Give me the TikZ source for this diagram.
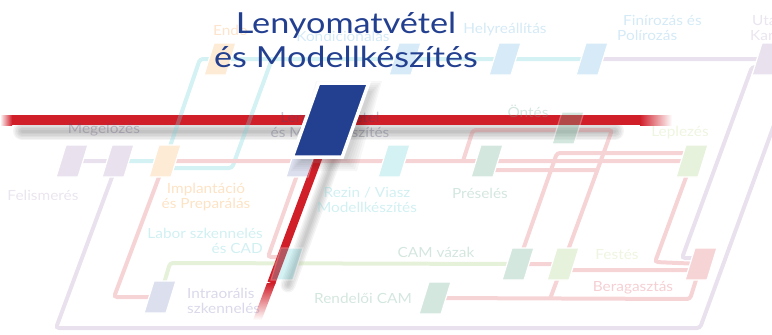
\documentclass[tikz,border=0pt]{standalone}
\usepackage{fontspec}
\setmainfont{Lato}
\newfontfamily\titlefont[FakeStretch=1.18]{Lato}
\newfontfamily\mapfont[FakeStretch=1.1]{Lato}
\usetikzlibrary{shadows}

\definecolor{lenyblue}{HTML}{233F8F}
\definecolor{redline}{HTML}{D11F2A}
% map colours (shown through the faded group)
\definecolor{mapPurple}{HTML}{B69EC6}
\definecolor{mapCyan}{HTML}{70D0D7}
\definecolor{mapSky}{HTML}{76BCE4}
\definecolor{mapOrange}{HTML}{F8BC76}
\definecolor{mapPink}{HTML}{E17076}
\definecolor{mapGreen}{HTML}{ACD084}
\definecolor{mapSage}{HTML}{70AF94}
\definecolor{mapLime}{HTML}{ACD48A}
\definecolor{mapLav}{HTML}{8A94C6}
\definecolor{txtGray}{HTML}{58486C}
\definecolor{txtLeny}{HTML}{44486C}
\definecolor{txtPurple}{HTML}{BCA8CA}
\definecolor{txtOrange}{HTML}{F8A23E}
\definecolor{txtCyan}{HTML}{69CDD4}
\definecolor{txtSage}{HTML}{70AF94}
\definecolor{txtLime}{HTML}{C6DE98}
\definecolor{txtLav}{HTML}{8080B9}
\definecolor{txtPink}{HTML}{DE5F6C}
\definecolor{txtSky}{HTML}{70B9E1}
\definecolor{txtEndo}{HTML}{F8A555}

\tikzset{
  halt/.style={draw=white, line width=1.2pt, fill=#1, minimum width=22pt,
    minimum height=32pt, inner sep=0pt, xslant=0.31},
  mline/.style={draw=#1, line width=4pt, rounded corners=3pt},
  lbl/.style={font=\mapfont\fontsize{14}{14.5}\selectfont, text=#1, inner sep=0pt, align=center},
}

\begin{document}
\begin{tikzpicture}[x=1pt,y=-1pt]
  \useasboundingbox (0,0) rectangle (772,335);

  % shadows under the red line
  \foreach \w in {3,6,...,18}
    \draw[black, opacity=0.045, line width=\w pt, line cap=round] (22,131) -- (615,131);
  \foreach \w in {3,6,...,15}
    \draw[black, opacity=0.045, line width=\w pt, line cap=round] (334,158) -- (288,285);

  % red line
  \coordinate (r-w) at (0,120);
  \coordinate (r-e) at (672,120);
  \coordinate (r-n) at (325,140);
  \coordinate (r-f) at (271.3,283);
  \draw[redline, line width=10pt] ([xshift=12pt]r-w) -- ([xshift=-32pt]r-e);
  \shade[left color=white, right color=redline] (0,115) rectangle (12,125);
  \shade[left color=redline, right color=white] (640,115) rectangle (672,125);
  \draw[redline, line width=8pt] (r-n) -- (r-f);
  \shade[top color=redline, bottom color=white]
    (267,283) -- (275.6,283) -- (261.6,320) -- (253,320) -- cycle;

  % faded map
  \begin{scope}[transparency group, opacity=0.3]
    \coordinate (endo) at (220,59);
    \coordinate (kond) at (405,59);
    \coordinate (helyre) at (505,59);
    \coordinate (finir) at (592,59);
    \coordinate (utkar) at (768,59);
    \coordinate (meg1) at (72,161);
    \coordinate (meg2) at (118,161);
    \coordinate (impl) at (165,161);
    \coordinate (leny) at (302,161);
    \coordinate (rezin) at (394,161);
    \coordinate (presel) at (487,161);
    \coordinate (ontes) at (568,128);
    \coordinate (lepl) at (692,161);
    \coordinate (intra) at (160,297);
    \coordinate (labor) at (287,264);
    \coordinate (camvaz) at (518,264);
    \coordinate (festes) at (563,264);
    \coordinate (berag) at (701,264);
    \coordinate (rendcam) at (435,298);

    % purple
    \draw[mline=mapPurple] (meg1) -- (meg2) -- (56,328) -- (700,328) -- (785,95);
    \draw[mline=mapPurple] (finir) -- (utkar) -- (790,59);
    \draw[mline=mapPurple] (790,67) -- (752,67) -- (682,258) -- (700,258);
    % cyan
    \draw[mline=mapCyan] (impl) -- (200,59) -- (finir);
    \draw[mline=mapCyan] (meg2) -- (impl);
    \draw[mline=mapCyan] (170,168) -- (232,168) -- (272,59);
    % pink
    \draw[mline=mapPink] (impl) -- (114,297) -- (intra);
    \draw[mline=mapPink] (impl) -- (lepl);
    \draw[mline=mapPink] (leny) -- (268,257) -- (285,257);
    \draw[mline=mapPink] (463,161) -- (473,130) -- (612,130) -- (festes);
    \draw[mline=mapPink] (490,170) -- (598,170);
    \draw[mline=mapPink] (690,153) -- (557,153) -- (camvaz);
    \draw[mline=mapPink] (lepl) -- (655,262) -- (berag);
    \draw[mline=mapPink] (camvaz) -- (festes);
    \draw[mline=mapPink] (570,270) -- (695,270);
    \draw[mline=mapPink] (rendcam) -- (690,299) -- (berag);
    \draw[mline=mapPink] (festes) -- (550,299);
    % green
    \draw[mline=mapGreen] (intra) -- (170,263) -- (camvaz);

    % stations
    \node[halt=mapOrange] (s-endo) at (endo) {};
    \node[halt=mapSky] (s-kond) at (kond) {};
    \node[halt=mapSky] (s-helyre) at (helyre) {};
    \node[halt=mapSky] (s-finir) at (finir) {};
    \node[halt=mapPurple] (s-utkar) at (utkar) {};
    \node[halt=mapPurple] (s-meg1) at (meg1) {};
    \node[halt=mapPurple] (s-meg2) at (meg2) {};
    \node[halt=mapOrange] (s-impl) at (impl) {};
    \node[halt=mapLav] (s-leny) at (leny) {};
    \node[halt=mapCyan] (s-rezin) at (rezin) {};
    \node[halt=mapSage] (s-presel) at (presel) {};
    \node[halt=mapSage] (s-ontes) at (ontes) {};
    \node[halt=mapLime] (s-lepl) at (lepl) {};
    \node[halt=mapLav] (s-intra) at (intra) {};
    \node[halt=mapCyan] (s-labor) at (labor) {};
    \node[halt=mapSage] (s-camvaz) at (camvaz) {};
    \node[halt=mapLime] (s-festes) at (festes) {};
    \node[halt=mapPink] (s-berag) at (berag) {};
    \node[halt=mapSage] (s-rendcam) at (rendcam) {};

    % labels
    \node[lbl=txtEndo, anchor=west] (l-endo) at (213,30) {Endo};
    \node[lbl=txtSky] (l-kond) at (343,36) {Kondicionálás};
    \node[lbl=txtSky] (l-helyre) at (505,30) {Helyreállítás};
    \node[lbl=txtSky, align=left, anchor=west] (l-finir) at (617,28) {\hspace{6pt}Finírozás és\\Polírozás};
    \node[lbl=txtPurple, align=left, anchor=west] (l-utkar) at (750,28) {\hspace{2pt}Utasítás\\Karbantartás};
    \node[lbl=txtGray] (l-meg) at (104,130) {Megelőzés};
    \node[lbl=txtLeny] (l-leny) at (330,125) {Lenyomatvétel\\és Modellkészítés};
    \node[lbl=txtSage] (l-ontes) at (528,111) {Öntés};
    \node[lbl=txtLime] (l-lepl) at (680,133) {Leplezés};
    \node[lbl=txtPurple] (l-felis) at (43,195) {Felismerés};
    \node[lbl=txtOrange] (l-impl) at (206,197) {Implantáció\\és Preparálás};
    \node[lbl=txtCyan] (l-rezin) at (367,200) {Rezin / Viasz\\Modellkészítés};
    \node[lbl=txtSage] (l-presel) at (480,193) {Préselés};
    \node[lbl=txtCyan, align=right, anchor=east] (l-labor) at (263,241) {Labor szkennelés\\és CAD};
    \node[lbl=txtSage] (l-camvaz) at (436,252) {CAM vázak};
    \node[lbl=txtLime] (l-festes) at (617,254) {Festés};
    \node[lbl=txtLav, align=left, anchor=west] (l-intra) at (187,301) {Intraorális\\szkennelés};
    \node[lbl=txtSage] (l-rendcam) at (363,298) {Rendelői CAM};
    \node[lbl=txtPink] (l-berag) at (633,288) {Beragasztás};
  \end{scope}

  % highlighted station
  \foreach \s in {0,2,...,10}
    \fill[black, opacity=0.03] (301-\s,161+\s) -- (347+\s,161+\s) -- (372+\s,91-\s) -- (326-\s,91-\s) -- cycle;
  \node[draw=white, line width=3.5pt, fill=lenyblue, minimum width=50pt, minimum height=74pt,
    inner sep=0pt, xslant=0.357] (bigst) at (330.5,120) {};
  \node[text=lenyblue, font=\titlefont\fontsize{29}{34}\selectfont, align=center, inner sep=0pt]
    (ttl) at (346,40) {Lenyomatvétel\\és Modellkészítés};
\end{tikzpicture}
\end{document}
